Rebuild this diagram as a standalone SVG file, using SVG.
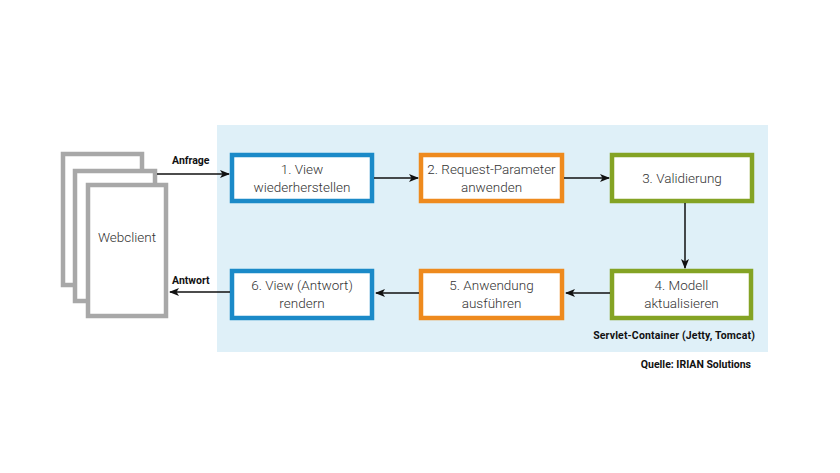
<svg xmlns="http://www.w3.org/2000/svg" width="840" height="473" viewBox="0 0 840 473">
<defs>
<marker id="ah" markerWidth="10" markerHeight="8" refX="9" refY="4" orient="auto" markerUnits="userSpaceOnUse">
<path d="M0,0 L10,4 L0,8 L2.5,4 Z" fill="#111"/>
</marker>
<style>
.box{fill:#fff;stroke-width:4.5}
.blue{stroke:#1b8ac8}
.orange{stroke:#ee8a1e}
.green{stroke:#84a324}
.page{fill:#fff;stroke:#a8a8a8;stroke-width:4.5}
.t{font-family:Roboto,"Liberation Sans",sans-serif;font-weight:300;font-size:13.5px;fill:#333;text-anchor:middle}
.lbl{font-family:Roboto,"Liberation Sans",sans-serif;font-weight:700;font-size:10.5px;fill:#111}
.conn{stroke:#111;stroke-width:1.5;fill:none;marker-end:url(#ah)}
</style>
</defs>
<rect width="840" height="473" fill="#fff"/>
<rect id="container" x="217" y="125" width="551" height="227" fill="#dff0f8"/>
<g id="webclient">
<rect class="page" x="63" y="154" width="79" height="131"/>
<rect class="page" x="75" y="171" width="80" height="130"/>
<rect class="page" x="88" y="185" width="78" height="131"/>
<text class="t" x="127" y="242">Webclient</text>
</g>
<g id="n1">
<rect class="box blue" x="232" y="155" width="140" height="46"/>
<text class="t" x="302" y="174">1. View</text>
<text class="t" x="302" y="192">wiederherstellen</text>
</g>
<g id="n2">
<rect class="box orange" x="421" y="155" width="141" height="46"/>
<text class="t" x="491.5" y="174">2. Request-Parameter</text>
<text class="t" x="491.5" y="192">anwenden</text>
</g>
<g id="n3">
<rect class="box green" x="612" y="155" width="140" height="46"/>
<text class="t" x="682" y="183">3. Validierung</text>
</g>
<g id="n4">
<rect class="box green" x="612" y="271" width="139" height="47"/>
<text class="t" x="681.5" y="290">4. Modell</text>
<text class="t" x="681.5" y="308">aktualisieren</text>
</g>
<g id="n5">
<rect class="box orange" x="421" y="271" width="141" height="47"/>
<text class="t" x="491.5" y="290">5. Anwendung</text>
<text class="t" x="491.5" y="308">ausführen</text>
</g>
<g id="n6">
<rect class="box blue" x="232" y="271" width="140" height="47"/>
<text class="t" x="302" y="290">6. View (Antwort)</text>
<text class="t" x="302" y="308">rendern</text>
</g>
<g id="connectors">
<line class="conn" x1="157" y1="174" x2="229" y2="174"/>
<line class="conn" x1="374" y1="178" x2="418" y2="178"/>
<line class="conn" x1="564" y1="178" x2="609" y2="178"/>
<line class="conn" x1="685" y1="203" x2="685" y2="268"/>
<line class="conn" x1="610" y1="293" x2="566" y2="293"/>
<line class="conn" x1="419" y1="293" x2="376" y2="293"/>
<line class="conn" x1="230" y1="292" x2="170" y2="292"/>
</g>
<text class="lbl" x="172" y="164">Anfrage</text>
<text class="lbl" x="172" y="284">Antwort</text>
<text class="lbl" x="755" y="339" text-anchor="end" letter-spacing="0.15">Servlet-Container (Jetty, Tomcat)</text>
<text class="lbl" x="751" y="368" text-anchor="end" font-size="10">Quelle: IRIAN Solutions</text>
</svg>
